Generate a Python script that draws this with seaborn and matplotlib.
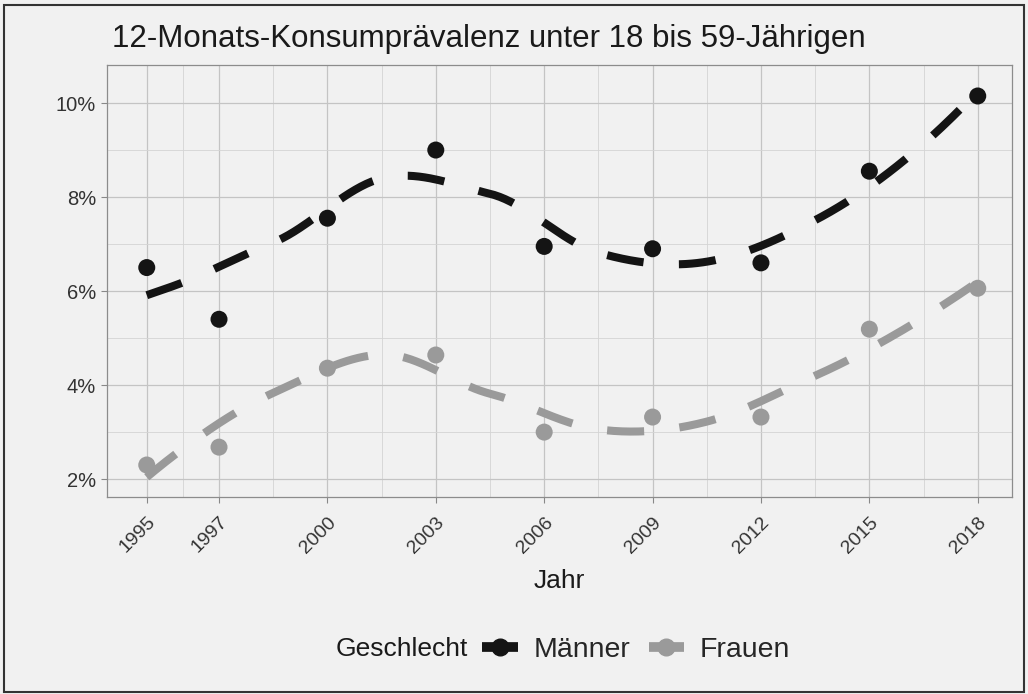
import numpy as np
import pandas as pd
import matplotlib
matplotlib.use('Agg')
import matplotlib.pyplot as plt
import seaborn as sns
from matplotlib.lines import Line2D
from matplotlib.ticker import MultipleLocator, FuncFormatter

# Werte (in Prozent)
jahre = [1995, 1997, 2000, 2003, 2006, 2009, 2012, 2015, 2018]
maenner = [6.5, 5.4, 7.55, 9.0, 6.95, 6.9, 6.6, 8.55, 10.15]
frauen = [2.3, 2.68, 4.36, 4.64, 3.0, 3.32, 3.32, 5.19, 6.06]
gruppen = ['Männer', 'Frauen']
farben = {'Männer': '#141414', 'Frauen': '#9a9a9a'}


def local_fit(x, y, g, q):
    # lokale quadratische Regression mit Tricube-Gewichten
    d = np.abs(x - g)
    h = np.sort(d)[q - 1]
    w = np.clip(1 - (d / h) ** 3, 0, None) ** 3
    X = np.vstack([np.ones_like(x), x - g, (x - g) ** 2]).T
    W = np.diag(w)
    beta = np.linalg.solve(X.T @ W @ X, X.T @ W @ y)
    return beta[0], beta[1]


def loess(x, y, grid, span=0.75):
    """loess wie in R (geom_smooth): Fit an kd-Knoten, dazwischen Hermite-Interpolation."""
    x = np.asarray(x, float)
    y = np.asarray(y, float)
    q = int(np.floor(len(x) * span))
    mu = 0.005 * (x.max() - x.min())
    knoten = np.concatenate([[x.min() - mu], (x[:-1] + x[1:]) / 2, [x.max() + mu]])
    werte = np.array([local_fit(x, y, k, q) for k in knoten])
    out = []
    for g in grid:
        i = min(np.searchsorted(knoten, g) - 1, len(knoten) - 2)
        i = max(i, 0)
        h = knoten[i + 1] - knoten[i]
        t = (g - knoten[i]) / h
        f0, m0 = werte[i]
        f1, m1 = werte[i + 1]
        out.append((2 * t**3 - 3 * t**2 + 1) * f0 + (t**3 - 2 * t**2 + t) * h * m0
                   + (-2 * t**3 + 3 * t**2) * f1 + (t**3 - t**2) * h * m1)
    return np.array(out)


df = pd.DataFrame({
    'Jahr': jahre * 2,
    'Wert': maenner + frauen,
    'Geschlecht': ['Männer'] * len(jahre) + ['Frauen'] * len(jahre),
})

grid = np.linspace(min(jahre), max(jahre), 300)
smooth = pd.concat([
    pd.DataFrame({'Jahr': grid, 'Wert': loess(jahre, maenner, grid), 'Geschlecht': 'Männer'}),
    pd.DataFrame({'Jahr': grid, 'Wert': loess(jahre, frauen, grid), 'Geschlecht': 'Frauen'}),
])

sns.set_theme(style='white')
plt.rcParams['font.family'] = ['Liberation Sans', 'DejaVu Sans']

bg = '#f1f1f1'
fig = plt.figure(figsize=(10.28, 6.94), dpi=100, facecolor=bg)
ax = fig.add_axes([0.1041, 0.2839, 0.8804, 0.6225])
ax.set_facecolor(bg)

for g in gruppen:
    sub = smooth[smooth['Geschlecht'] == g]
    sns.lineplot(data=sub, x='Jahr', y='Wert', color=farben[g], lw=5.8,
                 ax=ax, legend=False, sort=True)
    ax.lines[-1].set_dashes((4.6, 4.4))
    ax.lines[-1].set_dash_capstyle('butt')

sns.scatterplot(data=df, x='Jahr', y='Wert', hue='Geschlecht', palette=farben,
                s=150, edgecolor='none', ax=ax, legend=False, zorder=3)

ax.set_xlim(1993.9, 2018.95)
ax.set_ylim(1.62, 10.81)

ax.set_xticks(jahre)
ax.set_xticklabels([str(j) for j in jahre], rotation=45, ha='right', va='top',
                   rotation_mode='anchor', fontsize=14, color='#333333')
ax.set_xticks([(a + b) / 2 for a, b in zip(jahre[:-1], jahre[1:])], minor=True)
ax.yaxis.set_major_locator(MultipleLocator(2))
ax.yaxis.set_minor_locator(MultipleLocator(1))
ax.yaxis.set_major_formatter(FuncFormatter(lambda v, p: f'{v:.0f}%'))
ax.tick_params(axis='y', labelsize=14.5, labelcolor='#333333', pad=4)
ax.tick_params(axis='x', pad=8)
ax.tick_params(which='major', length=4, width=0.8, color='#888888', bottom=True, left=True)
ax.tick_params(which='minor', length=0)

ax.grid(which='major', color='#c4c4c4', lw=0.9)
ax.grid(which='minor', color='#d4d4d4', lw=0.6)
ax.set_axisbelow(True)
for s in ax.spines.values():
    s.set_color('#8c8c8c')
    s.set_linewidth(0.9)

ax.set_xlabel('Jahr', fontsize=19, color='#1a1a1a', labelpad=9)
ax.set_ylabel('')
fig.text(0.109, 0.944, '12-Monats-Konsumprävalenz unter 18 bis 59-Jährigen',
         fontsize=22.5, color='#1a1a1a', va='center', ha='left')

handles = [Line2D([], [], color=farben[g], lw=7, marker='o', markersize=12,
                  solid_capstyle='butt') for g in gruppen]
fig.text(0.326, 0.065, 'Geschlecht', fontsize=19, color='#1a1a1a', va='center')
fig.legend(handles, gruppen, loc='center left', bbox_to_anchor=(0.469, 0.063),
           ncol=2, frameon=False, fontsize=20.5, handlelength=1.25,
           handletextpad=0.55, columnspacing=0.65, borderaxespad=0, borderpad=0)

fig.patches.append(plt.Rectangle((0.004, 0.003), 0.992, 0.99, transform=fig.transFigure,
                                 fill=False, edgecolor='#333333', lw=1.5))

fig.savefig('out.png', dpi=100, facecolor=bg)
